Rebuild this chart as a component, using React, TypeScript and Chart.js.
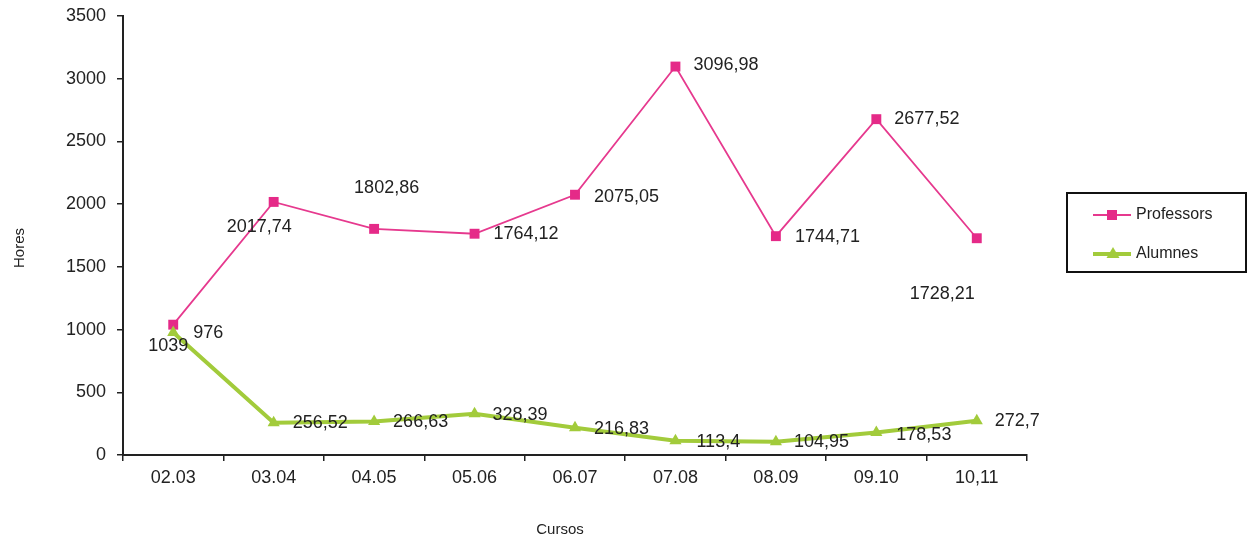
import React, { useEffect, useRef } from "react";
import { Chart, registerables } from "chart.js";

Chart.register(...registerables);

const categories = ["02.03", "03.04", "04.05", "05.06", "06.07", "07.08", "08.09", "09.10", "10,11"];
const professors = [1039, 2017.74, 1802.86, 1764.12, 2075.05, 3096.98, 1744.71, 2677.52, 1728.21];
const alumnes = [976, 256.52, 266.63, 328.39, 216.83, 113.4, 104.95, 178.53, 272.7];
const yTicks = [0, 500, 1000, 1500, 2000, 2500, 3000, 3500];

// label offsets (style only)
const profDx = [-25, -47, -20, 19, 19, 18, 19, 18, -67];
const profDy = [21, 25, -41, 0, 2, -2, 1, 0, 56];
const alumDx = [20, 19, 19, 18, 19, 21, 18, 20, 18];
const alumDy = [0, 0, 0, 1, 1, 1, 0, 2, 0];

const PINK = "#E6398E";
const PINK_M = "#E52A88";
const GREEN = "#A2CB3B";
const FONT = "'Liberation Sans', Arial, sans-serif";
const TXT = "#222";

const fmt = (v: number) => String(v).replace(".", ",");

const extrasPlugin = {
  id: "extras",
  afterDatasetsDraw(chart: any) {
    const ctx = chart.ctx;
    ctx.save();
    ctx.font = `18px ${FONT}`;
    ctx.fillStyle = TXT;
    ctx.textAlign = "left";
    ctx.textBaseline = "middle";
    chart.data.datasets.forEach((ds: any, di: number) => {
      const meta = chart.getDatasetMeta(di);
      const isProf = ds.label === "Professors";
      meta.data.forEach((pt: any, i: number) => {
        const dx = isProf ? profDx[i] : alumDx[i];
        const dy = isProf ? profDy[i] : alumDy[i];
        ctx.fillText(fmt(ds.data[i]), pt.x + dx, pt.y + dy);
      });
    });
    ctx.restore();
  },
  afterDraw(chart: any) {
    const ctx = chart.ctx;
    const ca = chart.chartArea;
    ctx.save();
    // axis titles
    ctx.fillStyle = TXT;
    ctx.font = `15px ${FONT}`;
    ctx.textAlign = "center";
    ctx.textBaseline = "middle";
    ctx.fillText("Cursos", (ca.left + ca.right) / 2 - 15, 530);
    ctx.save();
    ctx.translate(20, 248);
    ctx.rotate(-Math.PI / 2);
    ctx.fillText("Hores", 0, 0);
    ctx.restore();

    // legend box
    ctx.strokeStyle = "#111";
    ctx.lineWidth = 2;
    ctx.strokeRect(1067, 193, 179, 79);
    ctx.font = `16px ${FONT}`;
    ctx.textAlign = "left";
    // Professors
    ctx.strokeStyle = PINK;
    ctx.lineWidth = 2;
    ctx.beginPath();
    ctx.moveTo(1093, 215);
    ctx.lineTo(1131, 215);
    ctx.stroke();
    ctx.fillStyle = PINK_M;
    ctx.fillRect(1107, 210, 10, 10);
    ctx.fillStyle = TXT;
    ctx.fillText("Professors", 1136, 215);
    // Alumnes
    ctx.strokeStyle = GREEN;
    ctx.lineWidth = 4;
    ctx.beginPath();
    ctx.moveTo(1093, 254);
    ctx.lineTo(1131, 254);
    ctx.stroke();
    ctx.fillStyle = GREEN;
    ctx.beginPath();
    ctx.moveTo(1113, 247);
    ctx.lineTo(1119.5, 258);
    ctx.lineTo(1106.5, 258);
    ctx.closePath();
    ctx.fill();
    ctx.fillStyle = TXT;
    ctx.fillText("Alumnes", 1136, 254);
    ctx.restore();
  },
};

export default function App() {
  const ref = useRef<HTMLCanvasElement | null>(null);
  useEffect(() => {
    if (!ref.current) return;
    const chart = new Chart(ref.current, {
      type: "line",
      data: {
        labels: categories,
        datasets: [
          {
            label: "Professors",
            data: professors,
            borderColor: PINK,
            backgroundColor: PINK_M,
            borderWidth: 1.8,
            pointStyle: "rect",
            pointRadius: 7,
            pointBorderWidth: 0,
            pointBackgroundColor: PINK_M,
            tension: 0,
            order: 2,
          },
          {
            label: "Alumnes",
            data: alumnes,
            borderColor: GREEN,
            backgroundColor: GREEN,
            borderWidth: 4,
            pointStyle: "triangle",
            pointRadius: 7,
            pointBorderWidth: 0,
            pointBackgroundColor: GREEN,
            tension: 0,
            order: 1,
          },
        ],
      },
      options: {
        animation: false,
        responsive: true,
        maintainAspectRatio: false,
        layout: { padding: { top: 16, right: 226, left: 0, bottom: 0 } },
        plugins: { legend: { display: false }, tooltip: { enabled: false } },
        scales: {
          x: {
            type: "category",
            offset: true,
            grid: { display: true, drawOnChartArea: false, drawTicks: true, tickLength: 6, offset: true, color: "#222", lineWidth: 1.5 },
            border: { display: true, color: "#222", width: 2 },
            ticks: { color: TXT, font: { family: FONT, size: 18 }, padding: 6, maxRotation: 0 },
            afterFit: (s: any) => { s.height = 87; s.paddingLeft = 0; s.paddingRight = 0; },
          },
          y: {
            min: 0,
            max: 3500,
            afterBuildTicks: (s: any) => { s.ticks = yTicks.map((v) => ({ value: v })); },
            grid: { display: true, drawOnChartArea: false, drawTicks: true, tickLength: 6, color: "#222", lineWidth: 1.5 },
            border: { display: true, color: "#222", width: 2 },
            ticks: { color: TXT, font: { family: FONT, size: 18 }, padding: 11, callback: (v: any) => String(v) },
            afterFit: (s: any) => { s.width = 123; s.paddingTop = 0; s.paddingBottom = 0; },
          },
        },
      },
      plugins: [extrasPlugin],
    } as any);
    return () => chart.destroy();
  }, []);
  return (
    <div style={{ position: "absolute", left: 0, top: 0, width: 1253, height: 542, background: "#fff" }}>
      <canvas ref={ref} />
    </div>
  );
}
